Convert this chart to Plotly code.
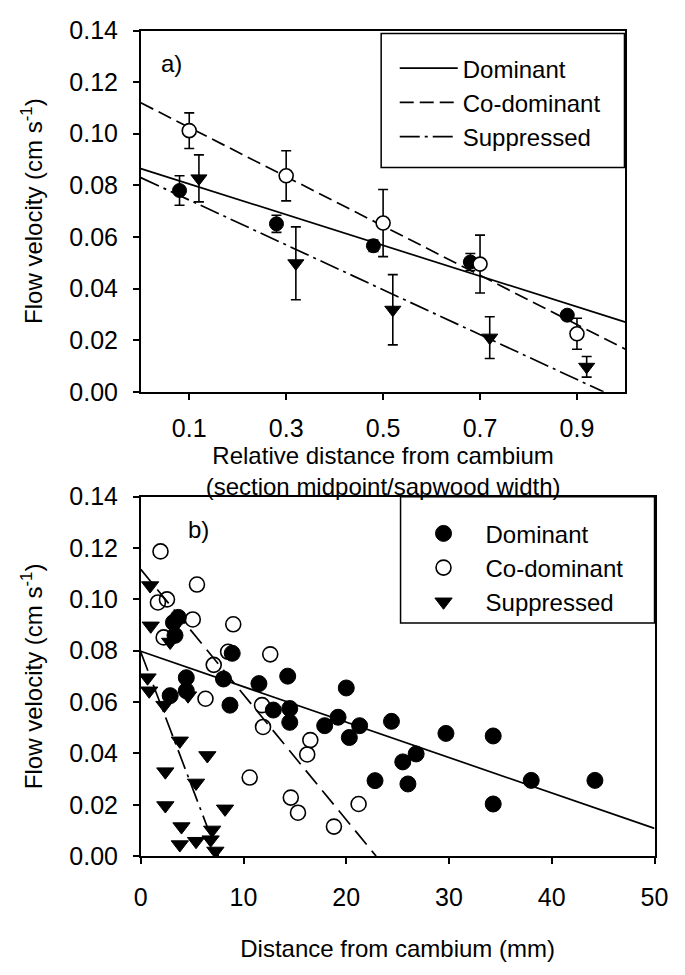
import plotly.graph_objects as go

W, H = 685, 975
FONT = "Arial, 'Liberation Sans', sans-serif"

# ---------- panel a: means +/- SE by relative position ----------
a_dom_x = [0.08, 0.28, 0.48, 0.68, 0.88]
a_dom_y = [0.0780, 0.0651, 0.0566, 0.0503, 0.0297]
a_dom_e = [0.0057, 0.0033, 0.0022, 0.0033, 0.0010]

a_co_x = [0.10, 0.30, 0.50, 0.70, 0.90]
a_co_y = [0.1012, 0.0837, 0.0654, 0.0495, 0.0225]
a_co_e = [0.0069, 0.0097, 0.0130, 0.0112, 0.0060]

a_sup_x = [0.12, 0.32, 0.52, 0.72, 0.92]
a_sup_y = [0.0827, 0.0498, 0.0318, 0.0210, 0.0097]
a_sup_e = [0.0091, 0.0141, 0.0136, 0.0081, 0.0040]

a_fit_dom_x = [0.0, 1.0]
a_fit_dom_y = [0.0865, 0.0270]
a_fit_co_x = [0.0, 1.0]
a_fit_co_y = [0.1120, 0.0165]
a_fit_sup_x = [0.0, 0.955]
a_fit_sup_y = [0.0830, 0.0]

a_xticks = [0.1, 0.3, 0.5, 0.7, 0.9]
a_xticktext = ["0.1", "0.3", "0.5", "0.7", "0.9"]

# ---------- panel b ----------
b_dom_x = [3.65, 3.18, 3.33, 8.9, 8.05, 4.43, 2.86, 4.43, 8.68, 11.5, 14.3, 12.9,
           14.5, 14.5, 17.9, 19.2, 20.0, 21.3, 20.3, 24.4, 25.5, 26.8, 22.8, 26.0,
           29.7, 34.3, 38.0, 44.2, 34.3]
b_dom_y = [0.0930, 0.0910, 0.0860, 0.0790, 0.0690, 0.0695, 0.0625, 0.0644, 0.0588,
           0.0672, 0.0701, 0.0569, 0.0575, 0.0521, 0.0508, 0.0541, 0.0655, 0.0508,
           0.0462, 0.0525, 0.0367, 0.0398, 0.0294, 0.0281, 0.0478, 0.0468, 0.0295,
           0.0295, 0.0203]

b_co_x = [1.92, 5.47, 2.55, 1.67, 5.06, 9.0, 2.23, 8.5, 12.6, 7.1, 6.3, 11.8, 11.9,
          16.5, 16.2, 10.6, 14.6, 15.3, 21.2, 18.8]
b_co_y = [0.1187, 0.1058, 0.1000, 0.0988, 0.0922, 0.0903, 0.0852, 0.0796, 0.0786,
          0.0745, 0.0613, 0.0588, 0.0503, 0.0452, 0.0396, 0.0306, 0.0228, 0.0169,
          0.0203, 0.0115]

b_sup_x = [0.91, 0.97, 2.86, 0.66, 0.82, 2.3, 4.6, 3.8, 6.48, 2.39, 5.38, 2.39, 8.2,
           3.96, 6.95, 3.8, 5.38, 6.8, 7.26]
b_sup_y = [0.1054, 0.0897, 0.0834, 0.0695, 0.0644, 0.0588, 0.0625, 0.0449, 0.0392,
           0.0329, 0.0285, 0.0197, 0.0184, 0.0115, 0.0102, 0.0045, 0.0058, 0.0064,
           0.0020]

b_fit_dom_x = [0.0, 50.0]
b_fit_dom_y = [0.0798, 0.0108]
b_fit_co_x = [0.0, 22.9]
b_fit_co_y = [0.1117, 0.0]
b_fit_sup_x = [0.0, 7.55]
b_fit_sup_y = [0.0795, 0.0]

names = ["Dominant", "Co-dominant", "Suppressed"]
y_ticks = [0.00, 0.02, 0.04, 0.06, 0.08, 0.10, 0.12, 0.14]

fig = go.Figure()

lw = 1.7
fig.add_trace(go.Scatter(x=a_fit_dom_x, y=a_fit_dom_y, mode="lines", name=names[0],
                         line=dict(color="black", width=lw), xaxis="x", yaxis="y",
                         legend="legend"))
fig.add_trace(go.Scatter(x=a_fit_co_x, y=a_fit_co_y, mode="lines", name=names[1],
                         line=dict(color="black", width=lw, dash="14px,6px"),
                         xaxis="x", yaxis="y", legend="legend"))
fig.add_trace(go.Scatter(x=a_fit_sup_x, y=a_fit_sup_y, mode="lines", name=names[2],
                         line=dict(color="black", width=lw, dash="20px,5px,3px,5px"),
                         xaxis="x", yaxis="y", legend="legend"))

def eb(arr):
    return dict(type="data", array=arr, visible=True, color="black", thickness=1.6, width=5)

fig.add_trace(go.Scatter(x=a_dom_x, y=a_dom_y, mode="markers", error_y=eb(a_dom_e),
                         marker=dict(symbol="circle", size=14, color="black",
                                     line=dict(color="black", width=1)),
                         showlegend=False, xaxis="x", yaxis="y", name=names[0]))
fig.add_trace(go.Scatter(x=a_co_x, y=a_co_y, mode="markers", error_y=eb(a_co_e),
                         marker=dict(symbol="circle", size=14, color="white",
                                     line=dict(color="black", width=1.6)),
                         showlegend=False, xaxis="x", yaxis="y", name=names[1]))
fig.add_trace(go.Scatter(x=a_sup_x, y=a_sup_y, mode="markers", error_y=eb(a_sup_e),
                         marker=dict(symbol="triangle-down", size=14, color="black",
                                     line=dict(color="black", width=1)),
                         showlegend=False, xaxis="x", yaxis="y", name=names[2]))

fig.add_trace(go.Scatter(x=b_fit_dom_x, y=b_fit_dom_y, mode="lines", showlegend=False,
                         line=dict(color="black", width=lw), xaxis="x2", yaxis="y2"))
fig.add_trace(go.Scatter(x=b_fit_co_x, y=b_fit_co_y, mode="lines", showlegend=False,
                         line=dict(color="black", width=lw, dash="18px,8px"),
                         xaxis="x2", yaxis="y2"))
fig.add_trace(go.Scatter(x=b_fit_sup_x, y=b_fit_sup_y, mode="lines", showlegend=False,
                         line=dict(color="black", width=lw, dash="20px,6px,3px,6px"),
                         xaxis="x2", yaxis="y2"))

fig.add_trace(go.Scatter(x=b_dom_x, y=b_dom_y, mode="markers", name=names[0],
                         marker=dict(symbol="circle", size=16, color="black",
                                     line=dict(color="black", width=1)),
                         xaxis="x2", yaxis="y2", legend="legend2"))
fig.add_trace(go.Scatter(x=b_co_x, y=b_co_y, mode="markers", name=names[1],
                         marker=dict(symbol="circle", size=15, color="rgba(255,255,255,0)",
                                     line=dict(color="black", width=1.6)),
                         xaxis="x2", yaxis="y2", legend="legend2"))
fig.add_trace(go.Scatter(x=b_sup_x, y=b_sup_y, mode="markers", name=names[2],
                         marker=dict(symbol="triangle-down", size=15, color="black",
                                     line=dict(color="black", width=1)),
                         xaxis="x2", yaxis="y2", legend="legend2"))

def px(x):
    return x / W

def py(y):
    return 1 - y / H

axis_common = dict(showline=True, mirror=True, linecolor="black", linewidth=1.5,
                   ticks="outside", ticklen=6, tickwidth=1.5, tickcolor="black",
                   showgrid=False, zeroline=False,
                   tickfont=dict(family=FONT, size=25, color="black"),
                   title_font=dict(family=FONT, size=24, color="black"))

ytitle = "Flow velocity (cm s<sup>-1</sup>)"

fig.update_layout(
    width=W, height=H,
    margin=dict(l=0, r=0, t=0, b=0),
    paper_bgcolor="white", plot_bgcolor="white",
    font=dict(family=FONT, color="black", size=24),
    xaxis=dict(domain=[px(138), px(638)], range=[0, 1.0], anchor="y",
               tickvals=a_xticks, ticktext=a_xticktext, ticklabelstandoff=7,
               title=dict(text="Relative distance from cambium<br>(section midpoint/sapwood width)",
                          standoff=1),
               **axis_common),
    yaxis=dict(domain=[py(389), py(17)], range=[0, 0.14], anchor="x",
               tickvals=y_ticks, tickformat=".2f", ticklabelstandoff=10,
               title=dict(text=ytitle, standoff=20),
               **axis_common),
    xaxis2=dict(domain=[px(138), px(668)], range=[0, 50], anchor="y2",
                tickvals=[0, 10, 20, 30, 40, 50], ticklabelstandoff=12,
                title=dict(text="Distance from cambium (mm)", standoff=30),
                **axis_common),
    yaxis2=dict(domain=[py(867), py(497)], range=[0, 0.14], anchor="x2",
                tickvals=y_ticks, tickformat=".2f", ticklabelstandoff=10,
                title=dict(text=ytitle, standoff=20),
                **axis_common),
    legend=dict(x=px(400), y=py(33), xanchor="left", yanchor="top",
                bgcolor="rgba(0,0,0,0)", borderwidth=0, itemwidth=58,
                font=dict(family=FONT, size=24, color="black")),
    legend2=dict(x=px(407), y=py(512), xanchor="left", yanchor="top",
                 bgcolor="rgba(0,0,0,0)", borderwidth=0, itemwidth=74,
                 font=dict(family=FONT, size=24, color="black")),
    shapes=[
        dict(type="rect", xref="paper", yref="paper", x0=px(386), x1=px(637),
             y0=py(158), y1=py(20), line=dict(color="black", width=1.5),
             fillcolor="rgba(0,0,0,0)", layer="above"),
        dict(type="rect", xref="paper", yref="paper", x0=px(406), x1=px(668),
             y0=py(627), y1=py(497), line=dict(color="black", width=1.5),
             fillcolor="rgba(0,0,0,0)", layer="above"),
    ],
    annotations=[
        dict(text="a)", x=px(157), y=py(51), xref="paper", yref="paper",
             xanchor="left", yanchor="middle", showarrow=False,
             font=dict(family=FONT, size=24, color="black")),
        dict(text="b)", x=px(185), y=py(531), xref="paper", yref="paper",
             xanchor="left", yanchor="middle", showarrow=False,
             font=dict(family=FONT, size=24, color="black")),
    ],
)

fig.write_html("out.html")
